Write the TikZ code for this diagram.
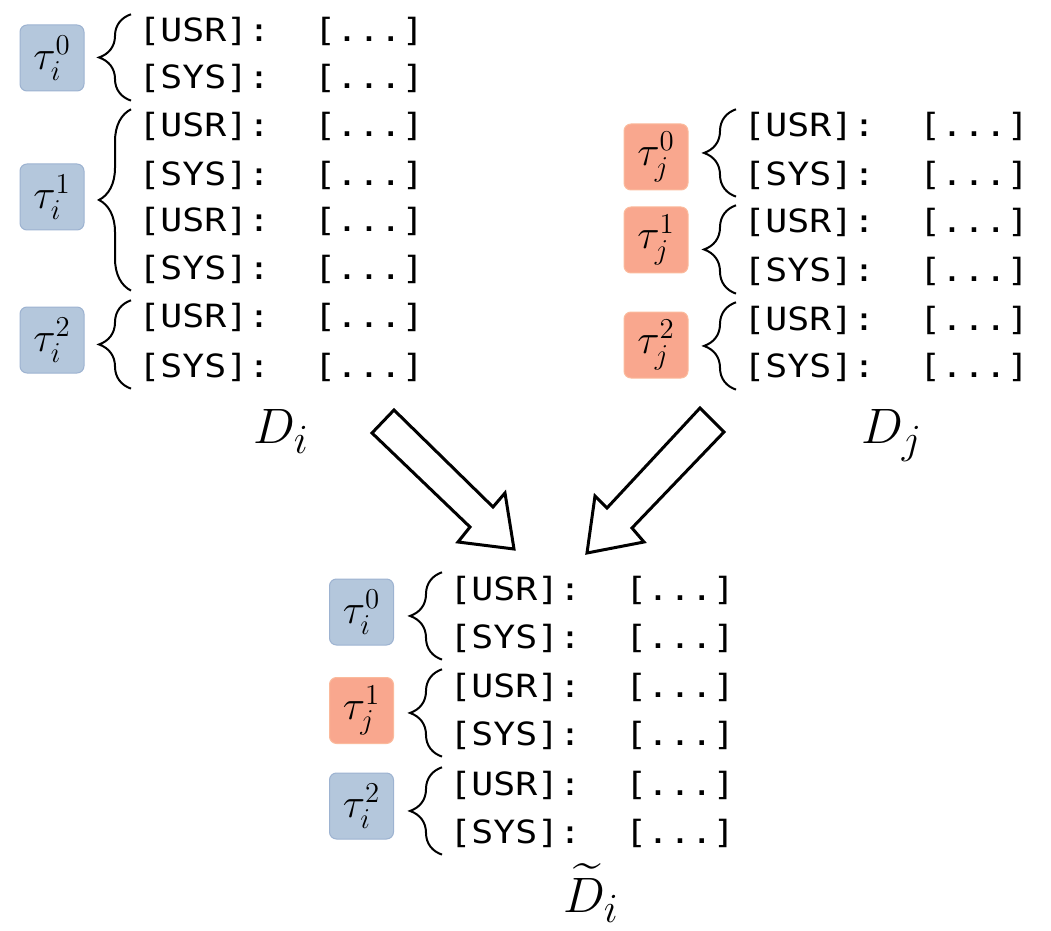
\documentclass[tikz,border=0pt]{standalone}
\usepackage{amsmath}
\usepackage{fontspec}
\newfontfamily\monof[FakeStretch=1.14]{DejaVu Sans Mono}
\usetikzlibrary{decorations.pathreplacing,positioning}
\definecolor{tauiFill}{HTML}{B4C7DC}
\definecolor{tauiLine}{HTML}{9DB3D1}
\definecolor{taujFill}{HTML}{F9A78E}
\definecolor{taujLine}{HTML}{FBBA9C}
\tikzset{
  turn/.style={anchor=base west,inner sep=0pt,font={\monof\fontsize{16}{19}\selectfont}},
  taubox/.style={rounded corners=3.5pt,line width=0.5pt,minimum width=32pt,minimum height=33pt,inner sep=0pt,font={\fontsize{20.74}{24}\selectfont}},
  taui/.style={taubox,fill=tauiFill,draw=tauiLine},
  tauj/.style={taubox,fill=taujFill,draw=taujLine},
  dlab/.style={anchor=base west,inner sep=0pt,font={\fontsize{24.88}{30}\selectfont}},
  grp/.style={decorate,decoration={brace,amplitude=16pt},line width=1pt},
  bigarrow/.style={line width=1.5pt,line join=miter,fill=white}
}

\begin{document}
\begin{tikzpicture}[x=0.5pt,y=-0.5pt]
    \useasboundingbox (0,0) rectangle (1051,931);
    % D_i
    \node[turn] (l1) at (138,42) {[USR]:\ \ [...]};
    \node[turn] (l2) at (138,89) {[SYS]:\ \ [...]};
    \node[turn] (l3) at (138,137) {[USR]:\ \ [...]};
    \node[turn] (l4) at (138,185) {[SYS]:\ \ [...]};
    \node[turn] (l5) at (138,232) {[USR]:\ \ [...]};
    \node[turn] (l6) at (138,279) {[SYS]:\ \ [...]};
    \node[turn] (l7) at (138,328) {[USR]:\ \ [...]};
    \node[turn] (l8) at (138,377) {[SYS]:\ \ [...]};
    \node[taui] (ti0) at (52,58) {$\tau^0_i$};
    \node[taui] (ti1) at (52,197) {$\tau^1_i$};
    \node[taui] (ti2) at (52,340) {$\tau^2_i$};
    \draw[grp] ([shift={(-7,7)}]l2.south west) -- ([shift={(-7,-3)}]l1.north west);
    \draw[grp] ([shift={(-7,7)}]l6.south west) -- ([shift={(-7,-3)}]l3.north west);
    \draw[grp] ([shift={(-7,7)}]l8.south west) -- ([shift={(-7,-3)}]l7.north west);
    \node[dlab] (Di) at (253,443) {$D_i$};
    % D_j
    \node[turn] (r1) at (743,137) {[USR]:\ \ [...]};
    \node[turn] (r2) at (743,185) {[SYS]:\ \ [...]};
    \node[turn] (r3) at (743,233) {[USR]:\ \ [...]};
    \node[turn] (r4) at (743,282) {[SYS]:\ \ [...]};
    \node[turn] (r5) at (743,330) {[USR]:\ \ [...]};
    \node[turn] (r6) at (743,378) {[SYS]:\ \ [...]};
    \node[tauj] (tj0) at (656,157) {$\tau^0_j$};
    \node[tauj] (tj1) at (656,240) {$\tau^1_j$};
    \node[tauj] (tj2) at (656,345) {$\tau^2_j$};
    \draw[grp] ([shift={(-7,7)}]r2.south west) -- ([shift={(-7,-3)}]r1.north west);
    \draw[grp] ([shift={(-7,7)}]r4.south west) -- ([shift={(-7,-3)}]r3.north west);
    \draw[grp] ([shift={(-7,7)}]r6.south west) -- ([shift={(-7,-3)}]r5.north west);
    \node[dlab] (Dj) at (861,443) {$D_j$};
    % merged
    \node[turn] (b1) at (449,600) {[USR]:\ \ [...]};
    \node[turn] (b2) at (449,648) {[SYS]:\ \ [...]};
    \node[turn] (b3) at (449,697) {[USR]:\ \ [...]};
    \node[turn] (b4) at (449,745) {[SYS]:\ \ [...]};
    \node[turn] (b5) at (449,795) {[USR]:\ \ [...]};
    \node[turn] (b6) at (449,843) {[SYS]:\ \ [...]};
    \node[taui] (mi0) at (361.5,612) {$\tau^0_i$};
    \node[tauj] (mj1) at (361.5,710.5) {$\tau^1_j$};
    \node[taui] (mi2) at (361.5,806) {$\tau^2_i$};
    \draw[grp] ([shift={(-7,7)}]b2.south west) -- ([shift={(-7,-3)}]b1.north west);
    \draw[grp] ([shift={(-7,7)}]b4.south west) -- ([shift={(-7,-3)}]b3.north west);
    \draw[grp] ([shift={(-7,7)}]b6.south west) -- ([shift={(-7,-3)}]b5.north west);
    \node[dlab] (Dm) at (563,912) {$\widetilde{D}_i$};
    % arrows
    \draw[bigarrow] (394,410) -- (493,507) -- (505,493) -- (514,549) -- (458,542) -- (470,527) -- (372,433) -- cycle;
    \draw[bigarrow] (700,408) -- (724,432) -- (632,528) -- (644,542) -- (587,553) -- (595,496) -- (607,508) -- cycle;
\end{tikzpicture}
\end{document}
